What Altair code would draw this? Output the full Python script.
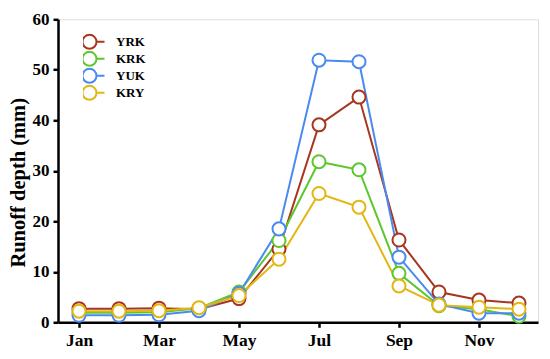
import altair as alt
import pandas as pd

months = list(range(1, 13))
month_labels = ["Jan", "Feb", "Mar", "Apr", "May", "Jun", "Jul", "Aug", "Sep", "Oct", "Nov", "Dec"]
series_names = ["YRK", "KRK", "YUK", "KRY"]
YRK = [2.7, 2.7, 2.8, 2.6, 4.7, 14.5, 39.1, 44.6, 16.3, 6.0, 4.4, 3.8]
KRK = [1.9, 1.9, 2.0, 2.8, 6.0, 16.2, 31.8, 30.2, 9.7, 3.3, 2.6, 1.2]
YUK = [1.4, 1.4, 1.5, 2.3, 5.7, 18.5, 51.9, 51.6, 12.9, 3.6, 1.8, 1.8]
KRY = [2.2, 2.2, 2.3, 2.9, 5.3, 12.5, 25.5, 22.8, 7.2, 3.4, 3.0, 2.6]
colors = ["#A8361F", "#5CC72E", "#4A8AF0", "#E2B714"]

rows = []
for name, vals in zip(series_names, [YRK, KRK, YUK, KRY]):
    for m, v in zip(months, vals):
        rows.append({"month": m, "value": v, "series": name, "order": series_names.index(name)})
df = pd.DataFrame(rows)

font = "Liberation Serif"
label_expr = "['','Jan','Feb','Mar','Apr','May','Jun','Jul','Aug','Sep','Oct','Nov','Dec'][datum.value]"

x = alt.X("month:Q",
          scale=alt.Scale(domain=[0.475, 12.475], nice=False, zero=False),
          axis=alt.Axis(values=[1, 3, 5, 7, 9, 11], labelExpr=label_expr, title=None,
                        grid=False, tickSize=5, tickWidth=2.5, domainWidth=2.5,
                        domainColor="black", tickColor="black", labelFont=font,
                        labelFontWeight="bold", labelFontSize=17.5, labelColor="black",
                        labelPadding=4))
y = alt.Y("value:Q",
          scale=alt.Scale(domain=[0, 60], nice=False),
          axis=alt.Axis(values=[0, 10, 20, 30, 40, 50, 60], title="Runoff depth (mm)",
                        grid=False, tickSize=5, tickWidth=2.5, domainWidth=2.5,
                        domainColor="black", tickColor="black", labelFont=font,
                        labelFontWeight="bold", labelFontSize=17, labelColor="black",
                        labelPadding=4, titleFont=font, titleFontWeight="bold",
                        titleFontSize=20.5, titleColor="black", titlePadding=4,
                        titleY=163))

legend_path = ("M-3,0 L-1.4,0 M1.4,0 L3,0 "
               "M-1.4,0 C-1.4,-0.773 -0.773,-1.4 0,-1.4 C0.773,-1.4 1.4,-0.773 1.4,0 "
               "C1.4,0.773 0.773,1.4 0,1.4 C-0.773,1.4 -1.4,0.773 -1.4,0 Z")
color = alt.Color("series:N",
                  scale=alt.Scale(domain=series_names, range=colors),
                  legend=alt.Legend(title=None, orient="none", legendX=25, legendY=14,
                                    symbolType=legend_path, symbolSize=100,
                                    symbolStrokeWidth=2, symbolFillColor="white",
                                    labelFont=font, labelFontWeight="bold",
                                    labelFontSize=13, labelColor="black",
                                    labelOffset=20, rowPadding=0, clipHeight=17,
                                    padding=0))

lines = alt.Chart(df).mark_line(strokeWidth=2).encode(x=x, y=y, color=color,
                                                       detail="series:N")
points = alt.Chart(df).mark_point(filled=False, fill="white", fillOpacity=1,
                                  strokeWidth=2, size=170, opacity=1).encode(
    x=x, y=y, color=color, order="order:Q")

chart = (lines + points).properties(
    width=480, height=303,
    autosize=alt.AutoSizeParams(type="none"),
    padding={"left": 50, "top": 11.3, "right": 4, "bottom": 34},
).configure_view(stroke="black", strokeWidth=2).configure(background="white")

chart.save("out.html", embed_options={"renderer": "svg", "actions": False})
